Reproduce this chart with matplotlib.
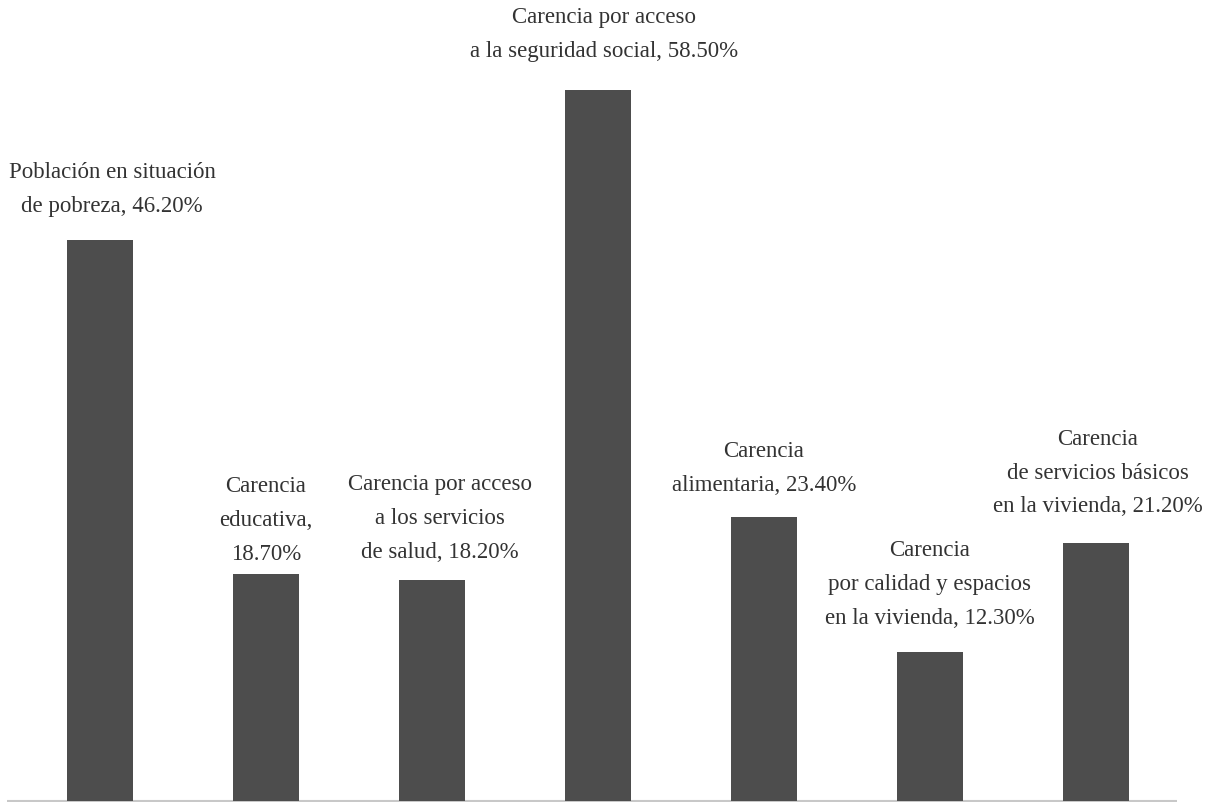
import matplotlib
matplotlib.use("Agg")
import matplotlib.pyplot as plt

labels = [
    "Población en situación\nde pobreza, 46.20%",
    "Carencia\neducativa,\n18.70%",
    "Carencia por acceso\na los servicios\nde salud, 18.20%",
    "Carencia por acceso\na la seguridad social, 58.50%",
    "Carencia\nalimentaria, 23.40%",
    "Carencia\npor calidad y espacios\nen la vivienda, 12.30%",
    "Carencia\nde servicios básicos\nen la vivienda, 21.20%",
]
values = [46.2, 18.7, 18.2, 58.5, 23.4, 12.3, 21.2]

# label offsets from the top centre of each bar, in pixels
dx = [12, 0, 8, 6, 0, 0, 2]
dy = [23, 9, 17, 28, 21, 23, 26]

plt.rcParams["font.family"] = ["Liberation Serif", "DejaVu Serif"]

fig = plt.figure(figsize=(12.12, 8.02), dpi=100)
ax = fig.add_axes([0, 0, 1, 1])

x = list(range(len(values)))
ax.bar(x, values, width=0.4, color="#4d4d4d", zorder=2)

# thin baseline under the bars
ax.hlines(0, -0.56, 6.49, color="#c8c8c8", linewidth=1.5, zorder=1)

for i, (lab, v) in enumerate(zip(labels, values)):
    ax.annotate(lab, (i, v), xytext=(dx[i], dy[i]), textcoords="offset pixels",
                ha="center", va="bottom", multialignment="center",
                fontsize=16.5, color="#333333", linespacing=1.8)

ax.set_xlim(-100 / 166, 1112 / 166)
ax.set_ylim(-1 / 12.15, 801 / 12.15)
ax.axis("off")

fig.savefig("out.png", dpi=100, facecolor="white")
